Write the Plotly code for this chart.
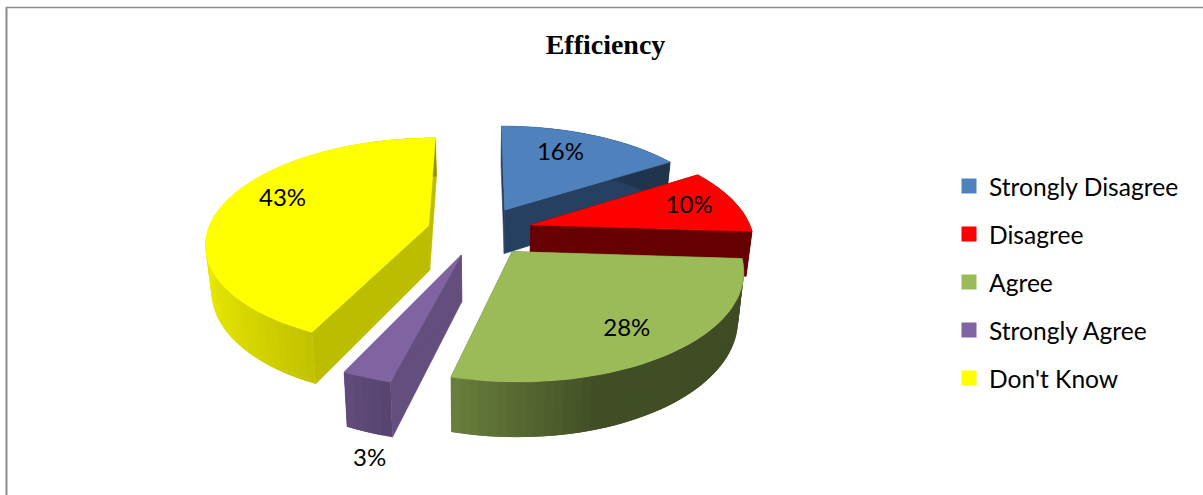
import math
import plotly.graph_objects as go

categories = ["Strongly Disagree", "Disagree", "Agree", "Strongly Agree", "Don't Know"]
values = [16, 10, 28, 3, 43]
colors = ["#4F81BD", "#FF0000", "#9BBB59", "#8064A2", "#FFFF00"]
cut_colors = ["#254061", "#660000", "#5F7530", "#644E7E", "#BDBD00"]
draw_order = [4, 3, 0, 1, 2]

# projection of the exploded pie
VX, VY, RX, RY, K, DEPTH, EXPLODE, TAPER = 480, 231, 221, 103, 0.155, 45, 0.24, 0.978
label_r = [0.72, 0.76, 0.72, 1.0, 0.7]
label_nudge = [(-10, 0), (3, 1), (5, 8), (3, 82), (-1, -11)]


def project(gx, gy, lower=False):
    s = 1 / (1 + K * gy)
    x = gx * RX * s * (TAPER if lower else 1)
    return VX + x, VY - gy * RY * s + (DEPTH * s if lower else 0)


def shade(hex_color, f):
    r, g, b = (int(hex_color[i:i + 2], 16) for i in (1, 3, 5))
    return f"rgb({r * f:.0f},{g * f:.0f},{b * f:.0f})"


def rim_factor(x):
    pts = [(-1, .92), (-.4, .75), (-.25, .68), (.3, .42), (1, .40)]
    for (a, fa), (b, fb) in zip(pts, pts[1:]):
        if x <= b:
            return fa + (fb - fa) * (x - a) / (b - a)
    return pts[-1][1]


def poly(points, color, width=0.6):
    xs, ys = zip(*points)
    return go.Scatter(x=list(xs) + [xs[0]], y=list(ys) + [ys[0]], mode="lines", fill="toself",
                      fillcolor=color, line=dict(color=color, width=width), hoverinfo="skip",
                      showlegend=False)


total = sum(values)
starts, a = [], 0.0
for v in values:
    starts.append(a)
    a += v / total * 2 * math.pi

fig = go.Figure()
label_x, label_y, label_text = [], [], []
for i in draw_order:
    a0 = starts[i]
    a1 = a0 + values[i] / total * 2 * math.pi
    mid = (a0 + a1) / 2
    ox, oy = EXPLODE * math.sin(mid), EXPLODE * math.cos(mid)
    n = max(4, int(math.degrees(a1 - a0) / 2))
    angs = [a0 + (a1 - a0) * j / n for j in range(n + 1)]
    rim = [(ox + math.sin(t), oy + math.cos(t)) for t in angs]

    # cut faces
    for g in (rim[0], rim[-1]):
        fig.add_trace(poly([project(ox, oy), project(*g), project(*g, True), project(ox, oy, True)],
                           cut_colors[i]))
    # outer wall strips, each overlapping the next so no seams show
    for j in range(n):
        g0, g1 = rim[j], rim[min(j + 2, n)]
        tm = (angs[j] + angs[j + 1]) / 2
        fig.add_trace(poly([project(*g0), project(*g1), project(*g1, True), project(*g0, True)],
                           shade(colors[i], rim_factor(math.sin(tm))), width=0))
    # top surface
    fig.add_trace(poly([project(ox, oy)] + [project(*g) for g in rim], colors[i]))

    lx, ly = project(ox + label_r[i] * math.sin(mid), oy + label_r[i] * math.cos(mid))
    label_x.append(lx + label_nudge[i][0])
    label_y.append(ly + label_nudge[i][1])
    label_text.append(f"{values[i]}%")

fig.add_trace(go.Scatter(x=label_x, y=label_y, text=label_text, mode="text", hoverinfo="skip",
                         textfont=dict(family="Lato", size=24, color="black"), showlegend=False))

for i, name in enumerate(categories):
    fig.add_trace(go.Scatter(x=[None], y=[None], mode="markers", name=name, legendgroup=name,
                             marker=dict(symbol="square", size=15, color=colors[i])))

fig.update_layout(
    width=1203, height=495, margin=dict(l=0, r=0, t=0, b=0),
    paper_bgcolor="white", plot_bgcolor="white",
    xaxis=dict(range=[0, 1203], visible=False, fixedrange=True),
    yaxis=dict(range=[495, 0], visible=False, fixedrange=True),
    title=dict(text="<b>Efficiency</b>", x=605.5 / 1203, y=1 - 44 / 495, xanchor="center", yanchor="middle",
               font=dict(family="Liberation Serif", size=28, color="black")),
    legend=dict(x=949 / 1203, y=1 - 282 / 495, xanchor="left", yanchor="middle", tracegroupgap=13,
                font=dict(family="Lato", size=24.6, color="black"), bgcolor="rgba(0,0,0,0)", itemwidth=30),
    shapes=[
        dict(type="line", xref="x", yref="y", x0=6.5, x1=6.5, y0=7, y1=495, line=dict(color="#8C8C8C", width=2)),
        dict(type="line", xref="x", yref="y", x0=6, x1=1203, y0=7.5, y1=7.5, line=dict(color="#8C8C8C", width=1.5)),
    ],
)
fig.write_html("out.html", post_script="document.body.style.margin='0';",
               config=dict(displayModeBar=False))
